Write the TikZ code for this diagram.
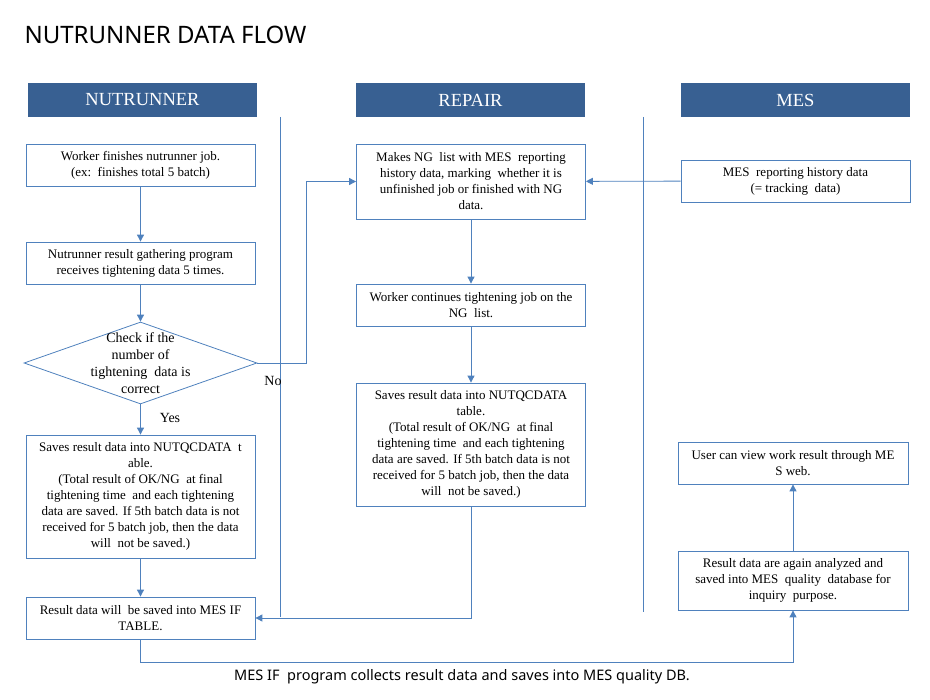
\documentclass[tikz,border=0pt]{standalone}
\usepackage{fontspec}
\setmainfont{Liberation Serif}
\newfontfamily\gothfont{Noto Sans}
\usetikzlibrary{positioning}
\usetikzlibrary{shapes.geometric}
\usetikzlibrary{arrows.meta}
\definecolor{laneblue}{RGB}{56,96,146}
\definecolor{lineblue}{RGB}{79,129,189}
\tikzset{flowbox/.style={rectangle, draw=lineblue, line width=0.8pt, minimum width=229pt, minimum height=42pt, inner sep=0pt, align=center, font=\fontsize{13}{16}\selectfont}}
\tikzset{lanehead/.style={rectangle, fill=laneblue, minimum width=229pt, minimum height=34pt, text=white, font=\fontsize{18.5}{20}\selectfont}}
\tikzset{decision/.style={diamond, draw=lineblue, line width=0.8pt, minimum width=233pt, minimum height=82pt, inner sep=0pt}}
\tikzset{flow/.style={draw=lineblue, line width=0.9pt, -{Triangle[length=7pt,width=7pt]}}}
\tikzset{lanesep/.style={draw=lineblue, line width=0.9pt}}

\begin{document}
\begin{tikzpicture}[x=1pt, y=-1pt]
    \useasboundingbox (0,0) rectangle (930,700);
    \node [anchor=base west, font=\gothfont\fontsize{24}{28}\selectfont](title) at (21,44) {NUTRUNNER DATA FLOW};

    % lane heads
    \node [lanehead](hN) at (142.5,100) {NUTRUNNER};
    \node [lanehead](hR) at (470.5,100) {REPAIR};
    \node [lanehead](hM) at (795.5,100) {MES};
    \draw [lanesep] (280,117) -- (280,617);
    \draw [lanesep] (643,117) -- (643,612);

    % nutrunner lane
    \node [flowbox](n1) at (140.5,165) {Worker finishes nutrunner job.\\(ex:\ \ finishes total 5 batch)};
    \node [flowbox](n2) at (140.5,263) {Nutrunner result gathering program\\receives tightening data 5 times.};
    \node [decision](chk) at (140.5,363) {};
    \node [align=center, inner sep=0pt, font=\fontsize{14}{17}\selectfont](chktxt) at (chk) {Check if the\\number of\\tightening\ \ data is\\correct};
    \node [flowbox, minimum height=123pt](n3) at (140.5,496.5) {Saves result data into NUTQCDATA\ \ t\\able.\\(Total result of OK/NG\ \ at final\\tightening time\ \ and each tightening\\data are saved. If 5th batch data is not\\received for 5 batch job, then the data\\will\ \ not be saved.)};
    \node [flowbox](n4) at (140.5,618) {Result data will\ \ be saved into MES IF\\TABLE.};
    \node [font=\fontsize{14}{15}\selectfont](yes) at (170,418) {Yes};
    \node [font=\fontsize{14}{15}\selectfont](no) at (273,381) {No};

    % repair lane
    \node [flowbox, minimum height=75pt](r1) at (471,181.5) {Makes NG\ \ list with MES\ \ reporting\\history data, marking\ \ whether it is\\unfinished job or finished with NG\\data.};
    \node [flowbox](r2) at (471,305) {Worker continues tightening job on the\\NG\ \ list.};
    \node [flowbox, minimum height=123pt](r3) at (471,444.5) {Saves result data into NUTQCDATA\\table.\\(Total result of OK/NG\ \ at final\\tightening time\ \ and each tightening\\data are saved. If 5th batch data is not\\received for 5 batch job,\ then the data\\will\ \ not be saved.)};

    % mes lane
    \node [flowbox](m1) at (795.5,181) {MES\ \ reporting history data\\(= tracking\ \ data)};
    \node [flowbox, minimum width=230pt](m2) at (793,463) {User can view work result through ME\\S web.};
    \node [flowbox, minimum width=230pt, minimum height=59pt](m3) at (793,580.5) {Result data are again analyzed and\\saved into MES\ \ quality\ \ database for\\inquiry\ \ purpose.};

    \node [font=\gothfont\fontsize{14.5}{16}\selectfont](caption) at (462,677) {MES IF\ \ program collects result data and saves into MES quality DB.};

    \coordinate (nobend) at (306,363);
    \coordinate (busbot) at (140.5,662);

    \draw[flow] (n1) -- (n2);
    \draw[flow] (n2) -- (chk);
    \draw[flow] (chk) -- (n3);
    \draw[flow] (n3) -- (n4);
    \draw[flow] (chk.east) -- (nobend) |- (r1.west);
    \draw[flow] (m1) -- (r1);
    \draw[flow] (r1) -- (r2);
    \draw[flow] (r2) -- (r3);
    \draw[flow] (r3.south) |- (n4.east);
    \draw[flow] (n4.south) -- (busbot) -| (m3.south);
    \draw[flow] (m3) -- (m2);
\end{tikzpicture}
\end{document}
